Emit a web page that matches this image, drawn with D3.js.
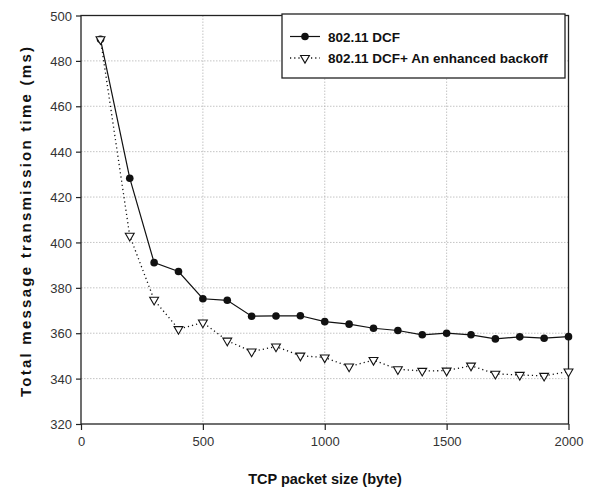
<!DOCTYPE html>
<html><head><meta charset="utf-8">
<script src="https://cdn.jsdelivr.net/npm/d3@7"></script>
<style>body{margin:0;background:#fff;} svg{display:block;}</style>
</head><body>
<svg id="c" width="592" height="491"></svg>
<script>
const packetSizes = [80,200,300,400,500,600,700,800,900,1000,1100,1200,1300,1400,1500,1600,1700,1800,1900,2000];
const dcf = [489.5,428.3,391.1,387.2,375.2,374.5,367.5,367.6,367.7,365.1,364.0,362.2,361.2,359.3,360.0,359.3,357.5,358.4,357.8,358.5];
const dcfEnhanced = [489.5,402.9,374.7,361.8,364.7,356.7,351.9,354.1,350.1,349.3,345.3,348.2,344.1,343.4,343.5,345.7,342.1,341.6,341.2,343.1];
const xTicks = [0,500,1000,1500,2000];
const yTicks = [320,340,360,380,400,420,440,460,480,500];
const seriesNames = ["802.11 DCF","802.11 DCF+ An enhanced backoff"];
const xTitle = "TCP packet size (byte)";
const yTitle = "Total message transmission time (ms)";

const svg = d3.select("#c");
const L=81,R=568.5,T=15.5,B=424;
const x = d3.scaleLinear().domain([0,2000]).range([L,R]);
const y = d3.scaleLinear().domain([320,500]).range([B,T]);
const font = "'Liberation Sans', Arial, sans-serif";

// grid
const g = svg.append("g");
g.selectAll(".gy").data(yTicks.filter(d=>d>320&&d<500)).join("line")
  .attr("x1",L).attr("x2",R).attr("y1",d=>y(d)).attr("y2",d=>y(d))
  .attr("stroke","#aaa").attr("stroke-width",0.7).attr("stroke-dasharray","1.5,1.5");
g.selectAll(".gx").data(xTicks.filter(d=>d>0&&d<2000)).join("line")
  .attr("y1",T).attr("y2",B).attr("x1",d=>x(d)).attr("x2",d=>x(d))
  .attr("stroke","#aaa").attr("stroke-width",0.7).attr("stroke-dasharray","1.5,1.5");

// frame
svg.append("rect").attr("x",L).attr("y",T).attr("width",R-L).attr("height",B-T)
  .attr("fill","none").attr("stroke","#222").attr("stroke-width",1.3);

// axes
const xAxis = svg.append("g").attr("transform",`translate(0,${B})`)
  .call(d3.axisBottom(x).tickValues(xTicks).tickSize(6).tickPadding(7).tickFormat(d3.format("d")));
const yAxis = svg.append("g").attr("transform",`translate(${L},0)`)
  .call(d3.axisLeft(y).tickValues(yTicks).tickSize(5).tickPadding(4).tickFormat(d3.format("d")));
[xAxis,yAxis].forEach(a=>{
  a.select(".domain").remove();
  a.selectAll(".tick line").attr("stroke","#222").attr("stroke-width",1.2);
  a.selectAll("text").attr("font-family",font).attr("font-size",13).attr("fill","#333");
});
yAxis.selectAll("text").attr("dy","0.35em");

// lines
const lineGen = d3.line().x((d,i)=>x(packetSizes[i])).y(d=>y(d));
svg.append("path").datum(dcfEnhanced).attr("d",lineGen).attr("fill","none")
  .attr("stroke","#111").attr("stroke-width",1.3).attr("stroke-dasharray","1.2,3");
svg.append("path").datum(dcf).attr("d",lineGen).attr("fill","none")
  .attr("stroke","#111").attr("stroke-width",1.2);

const tri = d3.symbol().type(d3.symbolTriangle).size(34);
function drawTri(sel){ sel.attr("d",tri).attr("fill","#fff").attr("stroke","#111").attr("stroke-width",1.1); }
svg.selectAll(".dot").data(dcf).join("circle")
  .attr("cx",(d,i)=>x(packetSizes[i])).attr("cy",d=>y(d)).attr("r",3.8).attr("fill","#111");
svg.selectAll(".tri").data(dcfEnhanced).join("path")
  .attr("transform",(d,i)=>`translate(${x(packetSizes[i])},${y(d)}) rotate(180)`).call(drawTri);

// legend
const lg = svg.append("g");
lg.append("rect").attr("x",282).attr("y",14).attr("width",283).attr("height",64)
  .attr("fill","#fff").attr("stroke","#222").attr("stroke-width",1.3);
lg.append("line").attr("x1",290).attr("x2",320).attr("y1",36.5).attr("y2",36.5).attr("stroke","#111").attr("stroke-width",1.2);
lg.append("circle").attr("cx",305).attr("cy",36.5).attr("r",3.8).attr("fill","#111");
lg.append("line").attr("x1",290).attr("x2",320).attr("y1",58).attr("y2",58).attr("stroke","#111").attr("stroke-width",1.3).attr("stroke-dasharray","1.2,3");
lg.append("path").attr("transform","translate(305,58) rotate(180)").call(drawTri);
lg.selectAll(".lt").data(seriesNames).join("text")
  .attr("x",328).attr("y",(d,i)=>i?63:41.5).text(d=>d)
  .attr("font-family",font).attr("font-weight","bold").attr("font-size",13.5).attr("fill","#111");

// titles
svg.append("text").attr("x",325).attr("y",484).attr("text-anchor","middle").text(xTitle)
  .attr("font-family",font).attr("font-weight","bold").attr("font-size",14.5).attr("fill","#111");
svg.append("text").attr("transform","translate(31,222) rotate(-90)").attr("text-anchor","middle").text(yTitle)
  .attr("font-family",font).attr("font-weight","bold").attr("font-size",15).attr("fill","#111")
  .attr("textLength",350).attr("lengthAdjust","spacing");
</script>
</body></html>
